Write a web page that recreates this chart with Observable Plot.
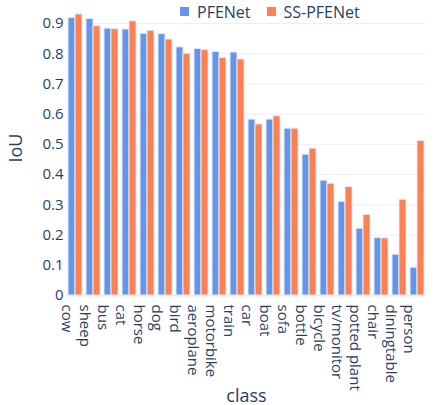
<!DOCTYPE html>
<html>
<head>
<meta charset="utf-8">
<script src="https://cdn.jsdelivr.net/npm/d3@7"></script>
<script src="https://cdn.jsdelivr.net/npm/@observablehq/plot@0.6"></script>
<style>
  html, body { margin: 0; padding: 0; background: #fff; }
  #wrap { position: relative; width: 434px; height: 405px; font-family: "Open Sans", sans-serif; }
  #legend { position: absolute; top: -5px; left: 180px; }
</style>
</head>
<body>
<div id="wrap"><div id="chart"></div><div id="legend"></div></div>
<script>
const classes = ["cow","sheep","bus","cat","horse","dog","bird","aeroplane","motorbike","train","car","boat","sofa","bottle","bicycle","tv/monitor","potted plant","chair","diningtable","person"];
const seriesNames = ["PFENet", "SS-PFENet"];
const pfenet   = [0.918, 0.915, 0.883, 0.880, 0.866, 0.865, 0.821, 0.816, 0.806, 0.804, 0.582, 0.582, 0.552, 0.466, 0.380, 0.310, 0.221, 0.190, 0.135, 0.092];
const sspfenet = [0.930, 0.891, 0.881, 0.907, 0.876, 0.847, 0.800, 0.812, 0.786, 0.781, 0.566, 0.593, 0.552, 0.486, 0.370, 0.359, 0.267, 0.189, 0.317, 0.511];
const yTicks = [0, 0.1, 0.2, 0.3, 0.4, 0.5, 0.6, 0.7, 0.8, 0.9];
const colors = ["#6495ED", "#FF7F50"];

const data = [];
classes.forEach((c, i) => {
  data.push({cls: c, series: seriesNames[0], value: pfenet[i]});
  data.push({cls: c, series: seriesNames[1], value: sspfenet[i]});
});

const textColor = "#2a3f5f";
const chart = Plot.plot({
  width: 434,
  height: 405,
  marginLeft: 58,
  marginRight: 0,
  marginTop: 0,
  marginBottom: 110,
  style: {fontFamily: "'Open Sans', sans-serif", color: textColor, background: "#fff"},
  fx: {domain: classes, padding: 0, label: "class"},
  x: {domain: seriesNames, paddingInner: 0, paddingOuter: 0.25, axis: null},
  y: {domain: [0, 0.976], label: "IoU"},
  color: {domain: seriesNames, range: colors},
  marks: [
    Plot.gridY(yTicks, {stroke: "#ebf0f8", strokeOpacity: 1, strokeWidth: 1}),
    Plot.ruleY([0], {stroke: "#ebf0f8", strokeWidth: 2}),
    Plot.barY(data, {fx: "cls", x: "series", y: "value", fill: "series", stroke: "#e5ecf6", strokeWidth: 1}),
    Plot.axisY(yTicks, {tickSize: 0, tickPadding: 3, fontSize: 15, label: null,
      tickFormat: d => d === 0 ? "0" : d3.format(".1f")(d)}),
    Plot.axisY([], {tickSize: 0, fontSize: 18, label: "IoU", labelAnchor: "center", labelOffset: 57, labelArrow: "none"}),
    Plot.axisFx({anchor: "bottom", tickSize: 0, tickPadding: 9, tickRotate: 90, fontSize: 15, dx: -9, label: null}),
    Plot.axisFx([], {anchor: "bottom", tickSize: 0, fontSize: 18, label: "class", labelAnchor: "center", labelOffset: 106, labelArrow: "none"})
  ]
});
document.getElementById("chart").appendChild(chart);

const legend = Plot.legend({
  color: {domain: seriesNames, range: colors},
  legend: "swatches",
  swatchSize: 9,
  style: {fontFamily: "'Open Sans', sans-serif", fontSize: "16px", color: textColor}
});
document.getElementById("legend").appendChild(legend);
</script>
</body>
</html>
